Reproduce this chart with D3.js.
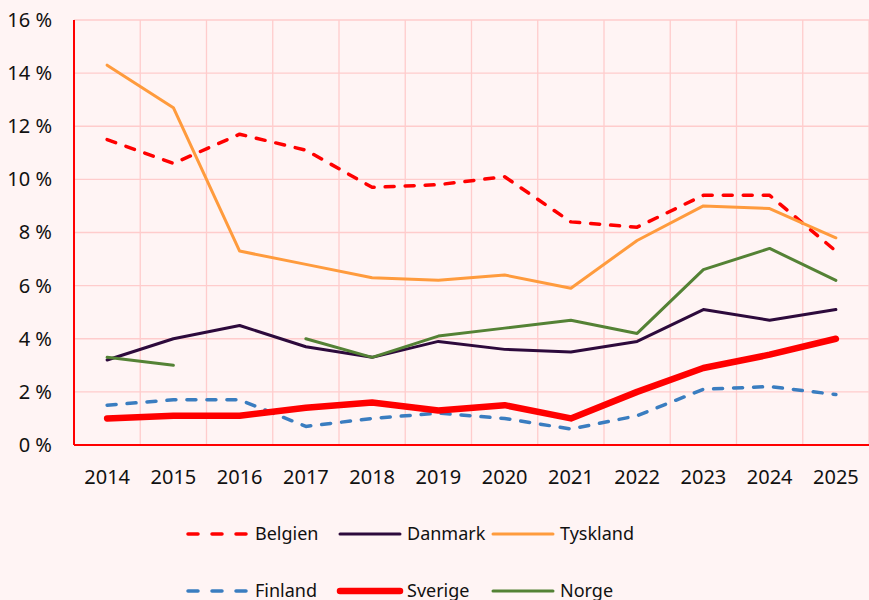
<!DOCTYPE html>
<html>
<head>
<meta charset="utf-8">
<script src="https://cdn.jsdelivr.net/npm/d3@7"></script>
<style>
  html, body { margin: 0; padding: 0; background: #fff4f4; }
  text { font-family: "Noto Sans", sans-serif; fill: #111; }
</style>
</head>
<body>
<div id="chart"></div>
<script>
// years on the x axis
const years = ["2014", "2015", "2016", "2017", "2018", "2019", "2020", "2021", "2022", "2023", "2024", "2025"];
const yTicks = [0, 2, 4, 6, 8, 10, 12, 14, 16];

// series values, percent
const belgien  = [11.5, 10.6, 11.7, 11.1, 9.7, 9.8, 10.1, 8.4, 8.2, 9.4, 9.4, 7.3];
const danmark  = [3.2, 4.0, 4.5, 3.7, 3.3, 3.9, 3.6, 3.5, 3.9, 5.1, 4.7, 5.1];
const tyskland = [14.3, 12.7, 7.3, 6.8, 6.3, 6.2, 6.4, 5.9, 7.7, 9.0, 8.9, 7.8];
const finland  = [1.5, 1.7, 1.7, 0.7, 1.0, 1.2, 1.0, 0.6, 1.1, 2.1, 2.2, 1.9];
const sverige  = [1.0, 1.1, 1.1, 1.4, 1.6, 1.3, 1.5, 1.0, 2.0, 2.9, 3.4, 4.0];
const norge    = [3.3, 3.0, null, 4.0, 3.3, 4.1, 4.4, 4.7, 4.2, 6.6, 7.4, 6.2];

const series = [
  { name: "Belgien",  values: belgien,  color: "#ff0000", width: 3.5, dash: "9,11" },
  { name: "Danmark",  values: danmark,  color: "#2d0a3c", width: 3,   dash: null },
  { name: "Tyskland", values: tyskland, color: "#ff9b3d", width: 3,   dash: null },
  { name: "Finland",  values: finland,  color: "#3a7dc0", width: 3.5, dash: "9,11" },
  { name: "Sverige",  values: sverige,  color: "#ff0000", width: 6.5, dash: null },
  { name: "Norge",    values: norge,    color: "#548235", width: 3,   dash: null }
];

const width = 869, height = 600;
const margin = { top: 20, right: 0, bottom: 155, left: 74 };

const svg = d3.select("#chart").append("svg")
  .attr("width", width)
  .attr("height", height);

svg.append("rect")
  .attr("width", width).attr("height", height)
  .attr("fill", "#fff4f4");

const x = d3.scaleBand()
  .domain(years)
  .range([margin.left, width - margin.right]);

const y = d3.scaleLinear()
  .domain([0, 16])
  .range([height - margin.bottom, margin.top]);

// grid
const grid = svg.append("g");
grid.selectAll("line.h")
  .data(yTicks.filter(d => d > 0))
  .enter().append("line")
  .attr("x1", margin.left).attr("x2", width - margin.right)
  .attr("y1", d => y(d)).attr("y2", d => y(d))
  .attr("stroke", "#ffcccc").attr("stroke-width", 1.3);
grid.selectAll("line.v")
  .data(years.slice(1).concat(["end"]))
  .enter().append("line")
  .attr("x1", (d, i) => x(years[0]) + x.step() * (i + 1))
  .attr("x2", (d, i) => x(years[0]) + x.step() * (i + 1))
  .attr("y1", y(16)).attr("y2", y(0))
  .attr("stroke", "#ffcccc").attr("stroke-width", 1.3);

// axes
const yAxis = svg.append("g")
  .attr("transform", `translate(${margin.left},0)`)
  .call(d3.axisLeft(y).tickValues(yTicks).tickSize(0).tickPadding(22).tickFormat(d => d + " %"));
yAxis.select(".domain").remove();
yAxis.selectAll("text").style("font-size", "20px");

const xAxis = svg.append("g")
  .attr("transform", `translate(0,${y(0)})`)
  .call(d3.axisBottom(x).tickSize(0).tickPadding(25));
xAxis.select(".domain").remove();
xAxis.selectAll("text").style("font-size", "20px");

svg.append("line")
  .attr("x1", margin.left).attr("x2", margin.left)
  .attr("y1", y(16)).attr("y2", y(0))
  .attr("stroke", "#ff0000").attr("stroke-width", 2);
svg.append("line")
  .attr("x1", margin.left).attr("x2", width - margin.right)
  .attr("y1", y(0)).attr("y2", y(0))
  .attr("stroke", "#ff0000").attr("stroke-width", 2);

// lines
const line = d3.line()
  .defined(d => d != null)
  .x((d, i) => x(years[i]) + x.bandwidth() / 2)
  .y(d => y(d));

svg.append("g").selectAll("path")
  .data(series)
  .enter().append("path")
  .attr("d", d => line(d.values))
  .attr("fill", "none")
  .attr("stroke", d => d.color)
  .attr("stroke-width", d => d.width)
  .attr("stroke-linecap", "round")
  .attr("stroke-linejoin", "round")
  .attr("stroke-dasharray", d => d.dash);

// legend
const legendCols = [188, 340, 493];
const legendRows = [534, 591];
const legend = svg.append("g").selectAll("g")
  .data(series)
  .enter().append("g")
  .attr("transform", (d, i) => `translate(${legendCols[i % 3]},${legendRows[Math.floor(i / 3)]})`);
legend.append("line")
  .attr("x1", 0).attr("x2", 60)
  .attr("stroke", d => d.color)
  .attr("stroke-width", d => d.width)
  .attr("stroke-linecap", "round")
  .attr("stroke-dasharray", d => d.dash ? "10,14" : null);
legend.append("text")
  .attr("x", 67).attr("dy", "0.35em")
  .style("font-size", "18px")
  .text(d => d.name);
</script>
</body>
</html>
